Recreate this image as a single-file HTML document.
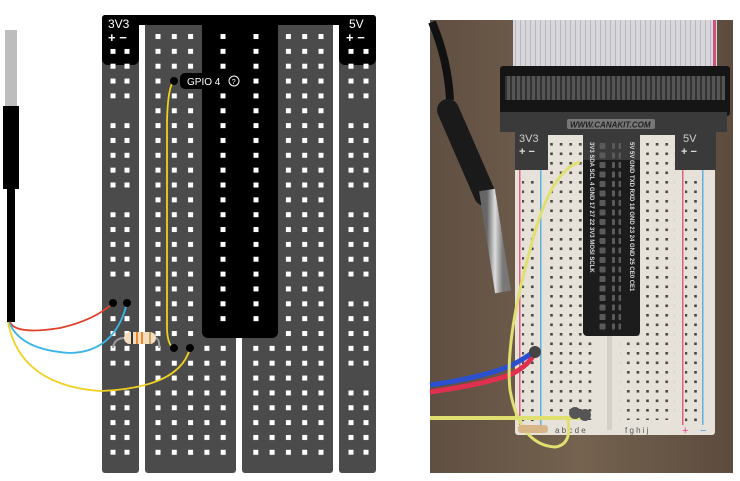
<!DOCTYPE html>
<html><head><meta charset="utf-8"><style>
html,body{margin:0;padding:0;background:#fff;}
svg{display:block;font-family:"Liberation Sans",sans-serif;}
</style></head><body>
<svg width="740" height="481" viewBox="0 0 740 481" xmlns="http://www.w3.org/2000/svg">
<defs>
<pattern id="hm" x="155.5" y="34" width="16.3" height="14.85" patternUnits="userSpaceOnUse"><rect width="5" height="5" fill="#fff"/></pattern>
<pattern id="hl" x="110.5" y="34" width="14" height="14.85" patternUnits="userSpaceOnUse"><rect width="5" height="5" fill="#fff"/></pattern>
<pattern id="hr" x="348.5" y="34" width="15" height="14.85" patternUnits="userSpaceOnUse"><rect width="5" height="5" fill="#fff"/></pattern>
<pattern id="hc" x="220.5" y="34" width="33" height="14.85" patternUnits="userSpaceOnUse"><rect width="5" height="5" fill="#fff"/></pattern>
<pattern id="pd" x="0" y="140" width="9.6" height="9.5" patternUnits="userSpaceOnUse"><rect x="3" y="3" width="2.6" height="2.6" fill="#4a4540"/></pattern>
<pattern id="pin" x="0" y="142" width="9.5" height="9.5" patternUnits="userSpaceOnUse"><rect x="1" y="1" width="6" height="6" rx="1" fill="#5a5a5a"/></pattern>
<pattern id="rib" x="0" y="0" width="5" height="10" patternUnits="userSpaceOnUse"><rect width="5" height="10" fill="#d8d8dc"/><rect width="1" height="10" fill="#b8b8be"/></pattern>
<pattern id="rib2" x="0" y="0" width="5" height="10" patternUnits="userSpaceOnUse"><rect width="5" height="10" fill="#555"/><rect width="2" height="10" fill="#333"/></pattern>
<linearGradient id="wood" x1="0" y1="0" x2="1" y2="0"><stop offset="0" stop-color="#5f4f42"/><stop offset="0.5" stop-color="#75624f"/><stop offset="1" stop-color="#5c4b3e"/></linearGradient>
<linearGradient id="steel" x1="0" y1="0" x2="1" y2="0"><stop offset="0" stop-color="#666"/><stop offset="0.5" stop-color="#ddd"/><stop offset="1" stop-color="#777"/></linearGradient>
</defs>

<!-- ===== LEFT DIAGRAM ===== -->
<rect x="5" y="30" width="12" height="76" fill="#bdbdbd"/>
<rect x="3" y="106" width="16" height="83" fill="#000"/>
<rect x="7" y="189" width="8" height="133" fill="#000"/>

<rect x="102" y="15" width="37" height="458" rx="3" fill="#4b4b4b"/>
<rect x="145" y="15" width="91" height="458" rx="3" fill="#4b4b4b"/>
<rect x="242" y="15" width="91" height="458" rx="3" fill="#4b4b4b"/>
<rect x="339" y="15" width="37" height="458" rx="3" fill="#4b4b4b"/>
<rect x="102" y="15" width="274" height="10" rx="3" fill="#000"/>
<rect x="102" y="15" width="37" height="50" rx="6" fill="#000"/>
<rect x="339" y="15" width="37" height="50" rx="6" fill="#000"/>
<rect x="202" y="15" width="76" height="323" rx="6" fill="#000"/>

<text x="108" y="28" fill="#fff" font-size="12">3V3</text>
<text x="108" y="42" fill="#fff" font-size="13" font-weight="bold">+ −</text>
<text x="349" y="28" fill="#fff" font-size="12">5V</text>
<text x="346" y="42" fill="#fff" font-size="13" font-weight="bold">+ −</text>

<rect x="108" y="48.85" width="26" height="49.55" fill="url(#hl)"/>
<rect x="108" y="123.1" width="26" height="64.4" fill="url(#hl)"/>
<rect x="108" y="212.2" width="26" height="64.4" fill="url(#hl)"/>
<rect x="108" y="301.3" width="26" height="64.4" fill="url(#hl)"/>
<rect x="108" y="390.4" width="26" height="64.4" fill="url(#hl)"/>
<rect x="346" y="48.85" width="26" height="49.55" fill="url(#hr)"/>
<rect x="346" y="123.1" width="26" height="64.4" fill="url(#hr)"/>
<rect x="346" y="212.2" width="26" height="64.4" fill="url(#hr)"/>
<rect x="346" y="301.3" width="26" height="64.4" fill="url(#hr)"/>
<rect x="346" y="390.4" width="26" height="64.4" fill="url(#hr)"/>
<rect x="155" y="34" width="40" height="305" fill="url(#hm)"/>
<rect x="155" y="345" width="74" height="112" fill="url(#hm)"/>
<rect x="220" y="34" width="40" height="290" fill="url(#hc)"/>
<rect x="253" y="345" width="72" height="112" fill="url(#hm)"/>
<rect x="284" y="34" width="40" height="305" fill="url(#hm)"/>

<rect x="180" y="73" width="52" height="16" rx="5" fill="#000"/>
<text x="187" y="85" fill="#fff" font-size="10">GPIO 4</text>
<circle cx="234" cy="81" r="5" fill="#000" stroke="#fff" stroke-width="1"/>
<text x="231.8" y="84" fill="#fff" font-size="7">?</text>

<path d="M113 348 Q114 338 125 338 M155 338 Q160 338 159 348" stroke="#999" stroke-width="2" fill="none"/>
<rect x="124" y="332" width="32" height="12" rx="6" fill="#f3dcc0"/>
<rect x="131" y="332" width="2" height="12" fill="#333"/>
<rect x="136" y="332" width="2" height="12" fill="#e88a2a"/>
<rect x="141" y="332" width="2" height="12" fill="#e88a2a"/>
<rect x="149" y="332" width="2" height="12" fill="#c9a45a"/>

<path d="M10 322 Q15 335 60 328 Q95 320 113 303" stroke="#e0402a" stroke-width="1.8" fill="none"/>
<path d="M9 322 Q20 350 70 353 Q115 352 127 303" stroke="#3cb4e6" stroke-width="1.8" fill="none"/>
<path d="M8 322 Q20 385 100 391 Q180 388 190 348" stroke="#f0d020" stroke-width="1.8" fill="none"/>
<path d="M174 81 Q168 86 167 120 L167 330 Q168 346 174 348" stroke="#f0d020" stroke-width="1.8" fill="none"/>
<circle cx="113" cy="303" r="4" fill="#000"/>
<circle cx="127" cy="303" r="4" fill="#000"/>
<circle cx="174" cy="348" r="4" fill="#000"/>
<circle cx="190" cy="348" r="4" fill="#000"/>
<circle cx="174" cy="81" r="4" fill="#000"/>

<!-- ===== PHOTO ===== -->
<rect x="430" y="20" width="303" height="453" fill="url(#wood)"/>
<rect x="513" y="20" width="204" height="52" fill="url(#rib)"/>
<rect x="713" y="20" width="3" height="52" fill="#d05080"/>
<rect x="500" y="66" width="230" height="50" rx="3" fill="#151515"/>
<rect x="505" y="76" width="220" height="24" fill="url(#rib2)"/>
<rect x="515" y="130" width="200" height="305" rx="3" fill="#e6e2da"/>
<rect x="519" y="165" width="1.5" height="260" fill="#e0608a"/>
<rect x="540" y="165" width="1.5" height="260" fill="#60b0e0"/>
<rect x="682" y="165" width="1.5" height="260" fill="#e0608a"/>
<rect x="702" y="165" width="1.5" height="260" fill="#60b0e0"/>
<rect x="607" y="140" width="5" height="290" fill="#d4d0c8"/>
<rect x="545" y="140" width="52" height="280" fill="url(#pd)"/>
<rect x="620" y="140" width="55" height="280" fill="url(#pd)"/>
<rect x="522" y="175" width="16" height="250" fill="url(#pd)"/>
<rect x="685" y="175" width="16" height="250" fill="url(#pd)"/>
<text x="520" y="434" fill="#e0408a" font-size="11">+</text>
<text x="555" y="433" fill="#555" font-size="8">a b c d e</text>
<text x="625" y="433" fill="#555" font-size="8">f g h i j</text>
<text x="682" y="434" fill="#e0408a" font-size="11">+</text>
<text x="700" y="434" fill="#4aa0e0" font-size="11">−</text>
<path d="M500 112 H727 V132 H716 V170 H675 V135 H548 V170 H515 V132 H500 Z" fill="#3a3a3a"/>
<rect x="567" y="119" width="88" height="10" rx="2" fill="#777"/>
<text x="570" y="127.5" fill="#222" font-size="8" font-style="italic" font-weight="bold">WWW.CANAKIT.COM</text>
<text x="519" y="142" fill="#ccc" font-size="11">3V3</text>
<text x="519" y="155" fill="#ddd" font-size="11" font-weight="bold">+ −</text>
<text x="683" y="142" fill="#ccc" font-size="11">5V</text>
<text x="681" y="155" fill="#ddd" font-size="11" font-weight="bold">+ −</text>
<rect x="583" y="130" width="57" height="206" rx="4" fill="#1c1c1c"/>
<rect x="583" y="130" width="57" height="30" fill="#3a3a3a"/>
<rect x="598" y="142" width="9" height="190" fill="url(#pin)"/>
<rect x="612" y="142" width="9" height="190" fill="url(#pin)"/>
<g fill="#ddd" font-size="6" font-weight="bold">
<text transform="translate(590,142) rotate(90)">3V3 SDA SCL 4 GND 17 27 22 3V3 MOSI SCLK</text>
<text transform="translate(630,142) rotate(90)">5V 5V GND TXD RXD 18 GND 23 24 GND 25 CE0 CE1</text>
</g>
<path d="M432 22 Q448 60 450 100" stroke="#111" stroke-width="8" fill="none"/>
<path d="M448 110 L485 195" stroke="#1a1a1a" stroke-width="22" stroke-linecap="round"/>
<path d="M487 190 L503 292" stroke="url(#steel)" stroke-width="16"/>
<path d="M430 392 Q480 385 510 375 Q530 365 535 352" stroke="#e03050" stroke-width="5" fill="none"/>
<path d="M430 385 Q480 378 510 366 Q528 357 535 350" stroke="#2a50d0" stroke-width="5" fill="none"/>
<path d="M430 418 L585 418" stroke="#e0e070" stroke-width="4" fill="none"/>
<path d="M580 162 Q550 170 530 250 Q505 340 510 390 Q520 445 555 447 Q572 445 568 420" stroke="#e0e070" stroke-width="3" fill="none"/>
<circle cx="535" cy="352" r="6" fill="#444"/>
<circle cx="575" cy="413" r="6" fill="#555"/>
<circle cx="585" cy="415" r="6" fill="#555"/>
<rect x="518" y="425" width="30" height="8" rx="3" fill="#d9b58a"/>
</svg>
</body></html>
